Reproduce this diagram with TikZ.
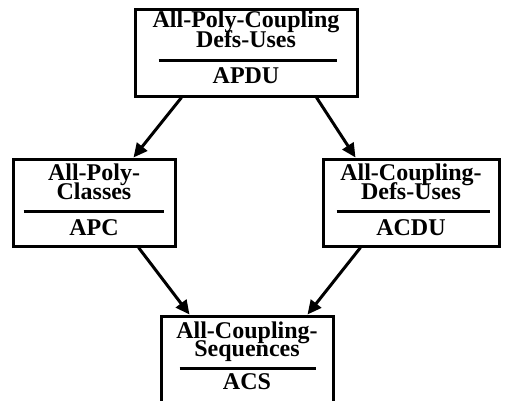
\documentclass[tikz,border=0pt]{standalone}
\usepackage{fontspec}
\setmainfont{Liberation Serif}
\usetikzlibrary{arrows.meta,calc}
\begin{document}
\begin{tikzpicture}[x=1pt,y=-1pt,
  box/.style={draw,line width=3pt,minimum height=87pt,inner sep=0pt},
  txt/.style={anchor=base,inner sep=0pt,font=\fontsize{24}{19}\bfseries},
  rulel/.style={line width=3.5pt},
  arr/.style={line width=3pt,-{Triangle[length=14pt,width=13pt]}}]
\useasboundingbox (0,0) rectangle (521,400);
\clip (0,0) rectangle (521,400);
\fill[white] (0,0) rectangle (521,400);
% boxes
\node[box,minimum width=222pt] (apdu) at (246,52.5) {};
\node[box,minimum width=162pt] (apc) at (94,202.5) {};
\node[box,minimum width=176pt] (acdu) at (411,202.5) {};
\node[box,minimum width=172pt] (acs) at (247,359.5) {};
% texts
\node[txt] (t1a) at ($(apdu.north)+(0,20)$) {All-Poly-Coupling};
\node[txt] (t1b) at ($(apdu.north)+(0,40)$) {Defs-Uses};
\node[txt] (t1c) at ($(apdu.north)+(0,76)$) {APDU};
\node[txt] (t2a) at ($(apc.north)+(0,23)$) {All-Poly-};
\node[txt] (t2b) at ($(apc.north)+(0,42)$) {Classes};
\node[txt] (t2c) at ($(apc.north)+(0,78)$) {APC};
\node[txt] (t3a) at ($(acdu.north)+(0,23)$) {All-Coupling-};
\node[txt] (t3b) at ($(acdu.north)+(0,42)$) {Defs-Uses};
\node[txt] (t3c) at ($(acdu.north)+(0,78)$) {ACDU};
\node[txt] (t4a) at ($(acs.north)+(0,24)$) {All-Coupling-};
\node[txt] (t4b) at ($(acs.north)+(0,42)$) {Sequences};
\node[txt] (t4c) at ($(acs.north)+(0,75)$) {ACS};
% rules
\draw[rulel] ($(apdu.north west)+(25,53)$) -- ($(apdu.north east)+(-22,53)$);
\draw[rulel] ($(apc.north west)+(12,54)$) -- ($(apc.north east)+(-13,54)$);
\draw[rulel] ($(acdu.north west)+(15,54)$) -- ($(acdu.north east)+(-11,54)$);
\draw[rulel] ($(acs.north west)+(20,54)$) -- ($(acs.north east)+(-19,54)$);
% arrows
\draw[arr] ([xshift=48pt]apdu.south west) -- ([xshift=122pt]apc.north west);
\draw[arr] ([xshift=-42pt]apdu.south east) -- ([xshift=34pt]acdu.north west);
\draw[arr] ([xshift=127pt]apc.south west) -- ([xshift=30pt]acs.north west);
\draw[arr] ([xshift=39pt]acdu.south west) -- ([xshift=-27pt]acs.north east);
\end{tikzpicture}
\end{document}
